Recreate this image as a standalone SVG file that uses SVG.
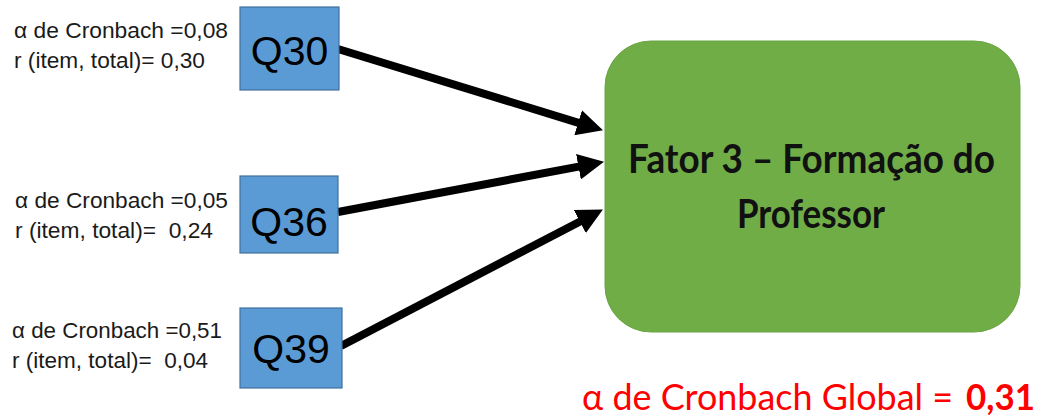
<svg xmlns="http://www.w3.org/2000/svg" width="1043" height="419" viewBox="0 0 1043 419">
  <style>
    .stat { font-family: "Liberation Sans", Arial, sans-serif; font-size: 22px; fill: #1a1a1a; white-space: pre; }
    .item rect { fill: #5B9BD5; stroke: #41719C; stroke-width: 1.2; }
    .item text { font-family: "Liberation Sans", Arial, sans-serif; font-size: 41px; fill: #000; text-anchor: middle; }
    .factor rect { fill: #70AD47; stroke: #6AA543; stroke-width: 1; }
    .factor text { font-family: Lato, "Open Sans", sans-serif; font-weight: bold; font-size: 40px; fill: #111; text-anchor: middle; }
    .link { stroke: #000; stroke-width: 8; fill: none; marker-end: url(#head); }
    .global { font-family: Lato, "Open Sans", sans-serif; font-size: 37px; fill: #FF0000; }
  </style>
  <defs>
    <marker id="head" markerUnits="userSpaceOnUse" markerWidth="27" markerHeight="26" refX="3" refY="13" orient="auto">
      <path d="M0,0 L26,13 L0,26 z" fill="#000"/>
    </marker>
  </defs>

  <rect width="1043" height="419" fill="#fff"/>

  <!-- reliability statistics beside each item -->
  <g id="stats-q30">
    <text class="stat" x="14" y="38" textLength="214" lengthAdjust="spacingAndGlyphs">α de Cronbach =0,08</text>
    <text class="stat" x="14" y="68" textLength="191" lengthAdjust="spacingAndGlyphs">r (item, total)= 0,30</text>
  </g>
  <g id="stats-q36">
    <text class="stat" x="15" y="208" textLength="213" lengthAdjust="spacingAndGlyphs">α de Cronbach =0,05</text>
    <text class="stat" x="15" y="238" textLength="198" lengthAdjust="spacingAndGlyphs">r (item, total)=  0,24</text>
  </g>
  <g id="stats-q39">
    <text class="stat" x="12" y="338" textLength="210" lengthAdjust="spacingAndGlyphs">α de Cronbach =0,51</text>
    <text class="stat" x="12" y="368" textLength="196" lengthAdjust="spacingAndGlyphs">r (item, total)=  0,04</text>
  </g>

  <!-- connectors -->
  <g id="connectors">
    <line class="link" x1="338" y1="49" x2="581" y2="123.6"/>
    <line class="link" x1="338" y1="212" x2="581.4" y2="166.1"/>
    <line class="link" x1="341" y1="346" x2="582.5" y2="220.2"/>
  </g>

  <!-- item nodes -->
  <g id="q30" class="item">
    <rect x="240" y="7" width="99" height="83"/>
    <text x="289.5" y="65">Q30</text>
  </g>
  <g id="q36" class="item">
    <rect x="240" y="176" width="98" height="77"/>
    <text x="289" y="236">Q36</text>
  </g>
  <g id="q39" class="item">
    <rect x="240" y="308" width="102" height="80"/>
    <text x="291" y="363">Q39</text>
  </g>

  <!-- factor node -->
  <g id="fator3" class="factor">
    <rect x="605" y="41" width="415" height="291" rx="46" ry="46"/>
    <text x="811.5" y="173" textLength="367" lengthAdjust="spacingAndGlyphs">Fator 3 – Formação do</text>
    <text x="811" y="228" textLength="148" lengthAdjust="spacingAndGlyphs">Professor</text>
  </g>

  <!-- overall reliability -->
  <g id="global-alpha">
    <text class="global" x="582" y="410" textLength="371" lengthAdjust="spacingAndGlyphs">α de Cronbach Global =</text>
    <text class="global" x="966" y="410" font-weight="bold" textLength="69" lengthAdjust="spacingAndGlyphs">0,31</text>
  </g>
</svg>
